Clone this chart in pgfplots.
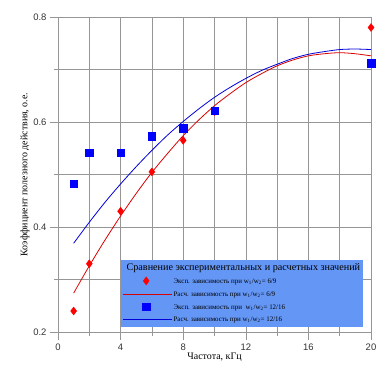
\documentclass[border=0pt]{standalone}
\usepackage{pgfplots}
\pgfplotsset{compat=1.18}
\usepackage{fontspec}
\setmainfont{Liberation Serif}
\newfontfamily\ticksans{Liberation Sans}
\definecolor{legbg}{RGB}{100,150,245}
\definecolor{gridc}{RGB}{150,150,150}
\pgfplotsset{
  lineleg/.style={legend image code/.code={\draw[##1] (0bp,0bp) -- (49bp,0bp);}},
  markleg/.style={legend image code/.code={\path[draw=none,fill=none] (0bp,0bp) -- (49bp,0bp); \path[##1, draw=none] plot[only marks] coordinates {(23bp,0bp)};}},
}
\begin{document}
\begin{tikzpicture}
\path (-58bp,-44bp) rectangle (326bp,332bp);
\begin{axis}[
  scale only axis,
  width=313bp, height=315bp,
  xmin=0, xmax=20, ymin=0.2, ymax=0.8,
  xtick={0,4,8,12,16,20},
  minor xtick={2,6,10,14,18},
  ytick={0.2,0.4,0.6,0.8},
  minor ytick={0.3,0.5,0.7},
  yticklabel style={/pgf/number format/fixed,/pgf/number format/precision=1},
  /pgf/number format/assume math mode=true,
  ticklabel style={font=\ticksans\fontsize{9.5}{11}\selectfont, text=black!80},
  grid=both,
  major grid style={gridc, line width=0.5pt},
  minor grid style={gridc, line width=0.5pt},
  axis line style={gridc, line width=0.5pt},
  tick style={gridc, line width=0.5pt},
  tick align=outside,
  major tick length=8bp,
  minor tick length=4bp,
  xtick pos=bottom, ytick pos=left,
  xlabel={Частота, кГц},
  ylabel={Коэффициент полезного действия, о.е.},
  label style={font=\rmfamily\fontsize{10}{12}\selectfont},
  xlabel style={yshift=4bp},
  ylabel style={yshift=-3bp},
  legend cell align=left,
  legend style={at={(axis cs:4,0.2)}, anchor=south west, yshift=5bp,
    fill=legbg, draw=none, inner xsep=2bp, inner ysep=4bp,
    font=\rmfamily\fontsize{7}{8}\selectfont, row sep=5.5bp,
    nodes={inner sep=1bp, text height=5bp, text depth=0bp}},
]
\addlegendimage{empty legend}
\addlegendentry{\hspace{-47bp}\rmfamily\fontsize{10.2}{12}\selectfont Сравнение экспериментальных и расчетных значений}

\addplot[only marks, mark=diamond*, mark size=4bp, color=red, markleg]
 coordinates {(1,0.24) (2,0.33) (4,0.43) (6,0.505) (8,0.565) (10,0.62) (20,0.78)};
\addlegendentry{Эксп. зависимость при w\textsubscript{1}/w\textsubscript{2}= 6/9}

\addplot[smooth, color=red!85!black, line width=0.8pt, lineleg]
 coordinates {(1,0.274) (2,0.326) (3,0.375) (4,0.421) (5,0.464) (6,0.504) (7,0.540) (8,0.574) (9,0.604) (10,0.631) (11,0.654) (12,0.675) (13,0.692) (14,0.707) (15,0.718) (16,0.726) (17,0.730) (18,0.732) (19,0.730) (20,0.726)};
\addlegendentry{Расч. зависимость при w\textsubscript{1}/w\textsubscript{2}= 6/9}

\addplot[only marks, mark=square*, mark size=3.7bp, color=blue, markleg]
 coordinates {(1,0.482) (2,0.541) (4,0.542) (6,0.573) (8,0.588) (10,0.621) (20,0.712)};
\addlegendentry{Эксп. зависимость при\ \ w\textsubscript{1}/w\textsubscript{2}= 12/16}

\addplot[smooth, color=blue!85!black, line width=0.8pt, lineleg]
 coordinates {(1,0.369) (2,0.409) (3,0.447) (4,0.482) (5,0.515) (6,0.546) (7,0.575) (8,0.601) (9,0.625) (10,0.647) (11,0.666) (12,0.683) (13,0.698) (14,0.710) (15,0.721) (16,0.729) (17,0.734) (18,0.738) (19,0.739) (20,0.738)};
\addlegendentry{Расч. зависимость при w\textsubscript{1}/w\textsubscript{2}= 12/16}
\end{axis}
\end{tikzpicture}
\end{document}
